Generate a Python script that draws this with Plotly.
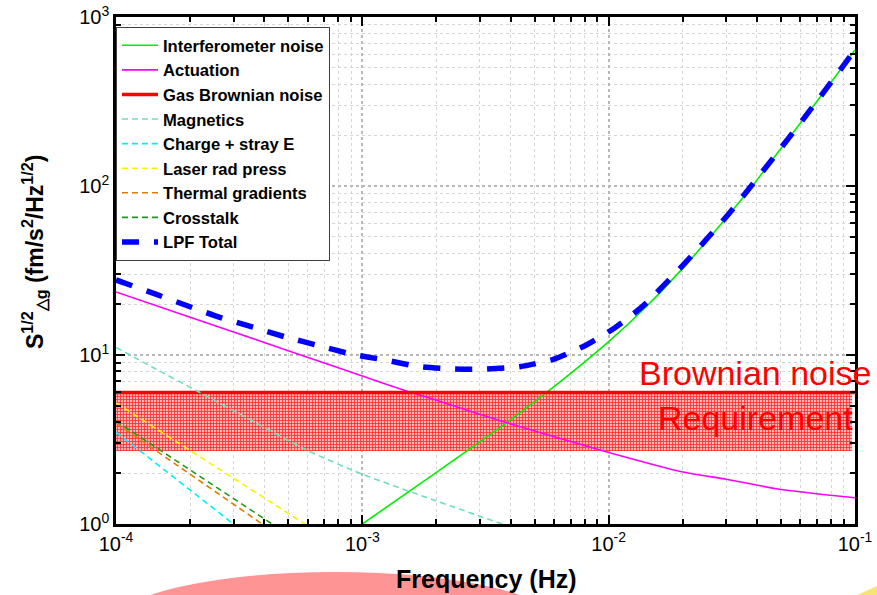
import plotly.graph_objects as go

# ---------------- data ----------------
ifo_f = [1e-3, 2e-3, 3.6e-3, 5.6e-3, 1e-2, 1.43e-2, 2.07e-2, 3.1e-2, 3.87e-2, 4.8e-2, 7e-2, 1e-1]
ifo_v = [1.0, 2.02, 3.7, 6.0, 12.0, 19.5, 34.5, 68.5, 102, 154, 316, 638]

act_f = [1e-4, 2e-4, 3e-4, 5e-4, 1e-3, 1.52e-3, 2e-3, 3.6e-3, 5e-3, 1e-2, 2e-2, 3e-2, 5e-2, 1e-1]
act_v = [23.6, 16.7, 13.7, 10.6, 7.5, 6.1, 5.4, 4.1, 3.55, 2.65, 2.03, 1.84, 1.6, 1.43]

gas_f = [1e-4, 1e-1]
gas_v = [6.0, 6.0]

mag_f = [1e-4, 1.4e-4, 2.19e-4, 3.5e-4, 5.94e-4, 1e-3, 1.94e-3, 3.7e-3]
mag_v = [11.1, 8.5, 6.0, 4.15, 2.74, 1.97, 1.39, 1.0]

chg_f = [1e-4, 3.0e-4]
chg_v = [3.5, 1.0]

las_f = [1e-4, 5.85e-4]
las_v = [5.2, 1.0]

thm_f = [1e-4, 3.92e-4]
thm_v = [3.96, 1.0]

xtk_f = [1e-4, 4.3e-4]
xtk_v = [4.07, 1.0]

tot_f = [1e-4, 1.45e-4, 1.96e-4, 2.64e-4, 3.6e-4, 4.86e-4, 6.6e-4, 9.08e-4, 1.24e-3, 1.7e-3,
         2.31e-3, 3.0e-3, 4.36e-3, 5.96e-3, 8.15e-3, 1.06e-2, 1.384e-2, 2.07e-2, 3.1e-2,
         4.8e-2, 7e-2, 1e-1]
tot_v = [27.8, 22.9, 19.5, 16.7, 14.6, 12.8, 11.4, 10.1, 9.34, 8.53,
         8.27, 8.23, 8.53, 9.43, 11.5, 14.5, 19.6, 35.8, 69.5,
         155, 317, 639]

req_f = [1e-4, 9.73e-2]
req_lo = [2.7, 2.7]
req_hi = [6.0, 6.0]

x_tickvals = [1e-4, 1e-3, 1e-2, 1e-1]
x_ticktext = ["10<sup>-4</sup>", "10<sup>-3</sup>", "10<sup>-2</sup>", "10<sup>-1</sup>"]
y_tickvals = [1, 10, 100, 1000]
y_ticktext = ["10<sup>0</sup>", "10<sup>1</sup>", "10<sup>2</sup>", "10<sup>3</sup>"]
minor_digits = [2, 3, 4, 5, 6, 7, 8, 9]

# ---------------- figure ----------------
FONT = "Liberation Sans, Arial, sans-serif"
W, H = 877, 595
L, R, T, B = 116, 22, 17, 71
PW, PH = W - L - R, H - T - B


def px(x):
    return (x - L) / PW


def py(y):
    return (H - B - y) / PH


x_minor = [d * v for v in x_tickvals[:-1] for d in minor_digits]
y_minor = [d * v for v in y_tickvals[:-1] for d in minor_digits]

fig = go.Figure()

# requirement band
fig.add_trace(go.Scatter(
    x=req_f + req_f[::-1], y=req_hi + req_lo[::-1], fill="toself", mode="lines",
    line=dict(width=0, color="rgba(0,0,0,0)"),
    fillcolor="#ff9c9c",
    fillpattern=dict(shape="+", size=3, solidity=0.45, fgcolor="#ff2a2a",
                     bgcolor="#ffb4b4", fillmode="replace"),
    showlegend=False, hoverinfo="skip"))

series = [
    ("Interferometer noise", ifo_f, ifo_v, "#00ee00", 1.6, "solid", "spline"),
    ("Actuation", act_f, act_v, "#ff00ff", 1.6, "solid", "spline"),
    ("Gas Brownian noise", gas_f, gas_v, "#ff0000", 3.5, "solid", "linear"),
    ("Magnetics", mag_f, mag_v, "#6ee0b8", 1.6, "6px,4px", "spline"),
    ("Charge + stray E", chg_f, chg_v, "#00f0ff", 1.6, "6px,4px", "linear"),
    ("Laser rad press", las_f, las_v, "#f5f500", 1.6, "6px,4px", "linear"),
    ("Thermal gradients", thm_f, thm_v, "#e07b00", 1.6, "6px,4px", "linear"),
    ("Crosstalk", xtk_f, xtk_v, "#1a9a1a", 1.6, "6px,4px", "linear"),
    ("LPF Total", tot_f, tot_v, "#0000ff", 5.5, "17px,15px", "spline"),
]
for i, (name, f, v, col, w, dash, shape) in enumerate(series):
    fig.add_trace(go.Scatter(
        x=f, y=v, mode="lines", name=name, legendgroup=f"g{i}",
        line=dict(color=col, width=w, dash=dash, shape=shape, smoothing=0.6),
        hoverinfo="skip"))

axis_common = dict(
    type="log", showline=True, linewidth=2.5, linecolor="black", mirror="ticks",
    ticks="inside", ticklen=9, tickwidth=2, tickcolor="black", automargin=False,
    showgrid=True, gridcolor="#b8b8b8", gridwidth=1.5, griddash="dot",
    zeroline=False, tickmode="array",
    tickfont=dict(family=FONT, size=20, color="black"),
)
minor_common = dict(ticks="inside", ticklen=5, tickwidth=1.5, tickcolor="black",
                    showgrid=True, gridcolor="#d6d6d6", gridwidth=1, griddash="dot",
                    tickmode="array")

fig.update_xaxes(range=[-4, -1], tickvals=x_tickvals, ticktext=x_ticktext,
                 minor=dict(tickvals=x_minor, **minor_common), **axis_common)
fig.update_yaxes(range=[0, 3], tickvals=y_tickvals, ticktext=y_ticktext,
                 minor=dict(tickvals=y_minor, **minor_common), **axis_common)

annotations = [
    dict(text="Brownian noise", x=px(755), y=py(373), xref="paper", yref="paper",
         showarrow=False, xanchor="center", yanchor="middle",
         font=dict(family=FONT, size=34, color="#ff0000")),
    dict(text="Requirement", x=px(755), y=py(418), xref="paper", yref="paper",
         showarrow=False, xanchor="center", yanchor="middle",
         font=dict(family=FONT, size=34, color="#ff0000")),
    dict(text="Frequency (Hz)", x=px(486), y=py(579), xref="paper", yref="paper",
         showarrow=False, xanchor="center", yanchor="middle",
         font=dict(family=FONT, size=25, color="black", weight="bold")),
    dict(text="S<sup>1/2</sup><sub>△g</sub> (fm/s<sup>2</sup>/Hz<sup>1/2</sup>)",
         x=px(34), y=py(252), xref="paper", yref="paper", textangle=-90,
         showarrow=False, xanchor="center", yanchor="middle",
         font=dict(family=FONT, size=23, color="black", weight="bold")),
]

shapes = [
    dict(type="circle", xref="paper", yref="paper",
         x0=px(111), x1=px(559), y0=py(572), y1=py(678),
         fillcolor="rgba(255,60,60,0.55)", line=dict(width=0), layer="below"),
    dict(type="path", xref="paper", yref="paper",
         path=f"M {px(857)} {py(595)} L {px(877)} {py(586)} L {px(877)} {py(595)} Z",
         fillcolor="rgba(245,215,60,0.7)", line=dict(width=0), layer="below"),
]

fig.update_layout(
    width=W, height=H, autosize=False,
    margin=dict(l=L, r=R, t=T, b=B, pad=0, autoexpand=False),
    paper_bgcolor="white", plot_bgcolor="white",
    font=dict(family=FONT, color="black"),
    showlegend=True,
    legend=dict(x=0, y=py(27), xanchor="left", yanchor="top",
                bgcolor="white", bordercolor="#404040", borderwidth=1,
                itemwidth=36,
                font=dict(family=FONT, size=16.6, color="black", weight="bold"),
                tracegroupgap=2, traceorder="normal"),
    annotations=annotations, shapes=shapes,
)

fig.write_html("out.html")
